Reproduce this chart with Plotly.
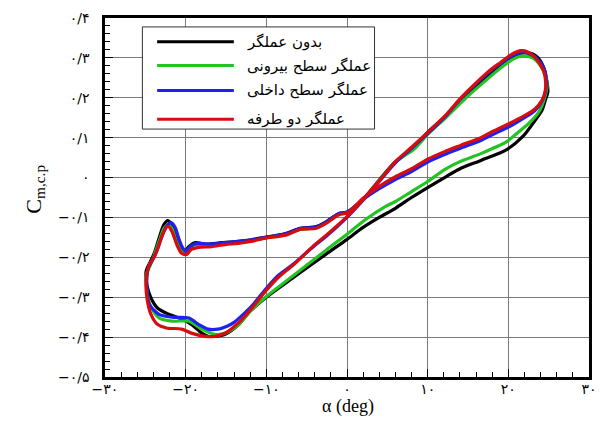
import plotly.graph_objects as go

# ---------------- data ----------------
names = ["بدون عملگر", "عملگر سطح بیرونی", "عملگر سطح داخلی", "عملگر دو طرفه"]
colors = ["#000000", "#22c322", "#2020f0", "#d80c0c"]

alpha_black = [-24.9, -24.4, -23.9, -23.3, -22.7, -22.2, -21.7, -21.1, -20.5, -20.1, -19.6, -18.8, -17.6, -16.0,
               -13.5, -11.9, -10.0, -8.7, -7.4, -5.8, -3.8, -2.6, -1.0, 0.0, 2.0, 4.0, 6.0, 8.4, 10.0, 12.4, 14.5,
               16.6, 19.0, 21.0, 22.2, 23.4, 24.3, 24.7, 24.9, 24.6, 24.2, 23.2, 21.8, 19.8, 16.6, 14.0, 12.1, 10.0,
               8.0, 6.0, 4.0, 2.0, 0.0, -2.6, -6.6, -10.0, -12.0, -13.5, -15.1, -16.4, -17.2, -18.0, -19.3, -20.5,
               -22.4, -23.5, -24.3, -24.8, -24.9]
cm_black = [-0.235, -0.212, -0.19, -0.152, -0.118, -0.108, -0.12, -0.158, -0.18, -0.185, -0.173, -0.163, -0.167,
            -0.164, -0.16, -0.156, -0.149, -0.145, -0.139, -0.127, -0.123, -0.111, -0.09, -0.086, -0.054, -0.006,
            0.04, 0.076, 0.113, 0.157, 0.2, 0.24, 0.282, 0.307, 0.313, 0.305, 0.28, 0.25, 0.215, 0.195, 0.17, 0.14,
            0.103, 0.07, 0.043, 0.022, 0.0, -0.025, -0.05, -0.077, -0.1, -0.125, -0.155, -0.192, -0.25, -0.3,
            -0.335, -0.37, -0.393, -0.398, -0.398, -0.39, -0.368, -0.355, -0.34, -0.327, -0.302, -0.27, -0.235]

alpha_green = [-24.9, -24.4, -23.9, -23.3, -22.7, -22.2, -21.7, -21.1, -20.5, -20.0, -19.5, -18.8, -17.6, -16.0,
               -13.5, -11.9, -10.0, -8.7, -7.4, -5.8, -3.8, -2.6, -1.0, 0.0, 2.0, 4.0, 6.0, 8.4, 10.0, 12.4, 14.5,
               16.6, 19.0, 20.6, 21.8, 23.0, 24.0, 24.6, 24.8, 24.5, 23.8, 22.5, 21.0, 19.8, 16.6, 14.0, 12.1, 10.0,
               8.0, 6.0, 4.8, 2.3, 0.0, -2.6, -6.6, -10.0, -12.0, -13.5, -15.1, -16.4, -18.0, -19.6, -21.7, -23.3,
               -24.4, -24.8, -24.9]
cm_green = [-0.245, -0.22, -0.195, -0.16, -0.128, -0.118, -0.128, -0.163, -0.185, -0.188, -0.177, -0.168, -0.17,
            -0.167, -0.162, -0.158, -0.151, -0.147, -0.142, -0.13, -0.126, -0.114, -0.092, -0.088, -0.056, -0.008,
            0.038, 0.073, 0.108, 0.153, 0.195, 0.233, 0.274, 0.297, 0.305, 0.3, 0.28, 0.255, 0.23, 0.2, 0.165,
            0.135, 0.11, 0.09, 0.06, 0.04, 0.02, -0.01, -0.035, -0.06, -0.072, -0.105, -0.142, -0.182, -0.245,
            -0.298, -0.335, -0.37, -0.39, -0.393, -0.38, -0.36, -0.36, -0.352, -0.32, -0.285, -0.245]

alpha_blue = [-24.8, -24.6, -24.2, -23.6, -22.9, -22.3, -21.8, -21.3, -20.9, -20.4, -20.0, -19.4, -18.6, -17.0,
              -15.0, -13.5, -11.9, -10.1, -8.7, -7.4, -5.8, -3.8, -2.6, -1.0, 0.0, 1.0, 2.0, 4.0, 6.0, 8.0, 10.0,
              12.1, 14.0, 16.6, 18.0, 20.6, 22.0, 23.3, 24.2, 24.6, 24.7, 24.5, 24.0, 23.3, 22.4, 21.6, 20.5, 19.0,
              17.8, 16.0, 14.0, 12.4, 10.0, 8.0, 6.0, 4.0, 2.0, 0.0, -2.6, -4.1, -6.6, -8.5, -10.1, -11.5, -12.7,
              -14.0, -14.8, -16.0, -17.2, -18.4, -19.6, -21.7, -23.3, -24.5, -24.8, -24.8]
cm_blue = [-0.25, -0.225, -0.21, -0.185, -0.145, -0.12, -0.113, -0.125, -0.15, -0.175, -0.185, -0.172, -0.165,
           -0.167, -0.163, -0.16, -0.157, -0.15, -0.146, -0.14, -0.128, -0.124, -0.112, -0.09, -0.087, -0.072,
           -0.055, -0.028, -0.005, 0.015, 0.039, 0.058, 0.073, 0.093, 0.107, 0.133, 0.15, 0.168, 0.192, 0.215,
           0.245, 0.27, 0.288, 0.303, 0.312, 0.314, 0.306, 0.285, 0.267, 0.235, 0.195, 0.158, 0.11, 0.073, 0.037,
           -0.01, -0.057, -0.1, -0.148, -0.172, -0.216, -0.245, -0.28, -0.315, -0.34, -0.363, -0.372, -0.38, -0.38,
           -0.368, -0.352, -0.35, -0.343, -0.318, -0.28, -0.25]

alpha_red = [-24.9, -24.5, -23.9, -23.3, -22.7, -22.2, -21.7, -21.1, -20.5, -19.9, -19.3, -18.4, -16.8, -15.1,
             -13.5, -11.9, -10.1, -8.7, -7.4, -5.8, -3.8, -2.6, -1.0, 0.0, 1.0, 2.0, 4.0, 6.0, 8.0, 10.0, 12.1,
             14.0, 16.6, 18.0, 20.6, 22.0, 23.3, 24.2, 24.6, 24.6, 24.4, 23.9, 23.2, 22.4, 21.6, 20.5, 19.0, 17.8,
             16.0, 14.0, 12.4, 10.0, 8.0, 6.0, 4.0, 2.0, 0.0, -2.6, -4.1, -6.6, -8.5, -10.1, -11.9, -13.5, -15.1,
             -16.4, -17.6, -19.3, -20.5, -22.4, -23.5, -24.3, -24.8, -24.9]
cm_red = [-0.256, -0.218, -0.2, -0.168, -0.135, -0.122, -0.135, -0.168, -0.19, -0.193, -0.18, -0.175, -0.173,
          -0.168, -0.165, -0.16, -0.152, -0.148, -0.143, -0.13, -0.127, -0.115, -0.093, -0.089, -0.072, -0.052,
          -0.022, 0.002, 0.022, 0.046, 0.065, 0.08, 0.1, 0.115, 0.14, 0.155, 0.172, 0.195, 0.22, 0.245, 0.265,
          0.285, 0.303, 0.315, 0.318, 0.31, 0.288, 0.27, 0.237, 0.197, 0.16, 0.113, 0.076, 0.04, -0.008, -0.055,
          -0.098, -0.145, -0.17, -0.218, -0.25, -0.285, -0.33, -0.365, -0.39, -0.398, -0.398, -0.39, -0.38,
          -0.377, -0.368, -0.343, -0.302, -0.256]

x_tickvals = [-30, -20, -10, 0, 10, 20, 30]
x_ticktext = ["−۳۰", "−۲۰", "−۱۰", "۰", "۱۰", "۲۰", "۳۰"]
y_tickvals = [-0.5, -0.4, -0.3, -0.2, -0.1, 0.0, 0.1, 0.2, 0.3, 0.4]
y_ticktext = ["−۰/۵", "−۰/۴", "−۰/۳", "−۰/۲", "−۰/۱", "۰", "۰/۱", "۰/۲", "۰/۳", "۰/۴"]

series_alpha = [alpha_black, alpha_green, alpha_blue, alpha_red]
series_cm = [cm_black, cm_green, cm_blue, cm_red]

# ---------------- figure ----------------
fig = go.Figure()
for a, c, col, nm in zip(series_alpha, series_cm, colors, names):
    fig.add_trace(go.Scatter(x=a, y=c, mode="lines", name=nm,
                             line=dict(color=col, width=3.2, shape="spline", smoothing=0.8),
                             showlegend=False))

W, H = 607, 432
ml, mr, mt, mb = 105, 10, 15, 55
pw, ph = W - ml - mr, H - mt - mb


def px2paper(px, py):
    return (px - ml) / pw, (H - mb - py) / ph


# manual legend box
bx0, by0 = px2paper(143, 127)
bx1, by1 = px2paper(379, 24)
shapes = [dict(type="rect", xref="paper", yref="paper", x0=bx0, y0=by0, x1=bx1, y1=by1,
               line=dict(color="#333333", width=1), fillcolor="white", layer="above")]
annotations = []
rows_py = [39, 63, 88, 117]
for nm, col, py in zip(names, colors, rows_py):
    lx0, ly = px2paper(158, py)
    lx1, _ = px2paper(236, py)
    shapes.append(dict(type="line", xref="paper", yref="paper", x0=lx0, x1=lx1, y0=ly, y1=ly,
                       line=dict(color=col, width=3), layer="above"))
    tx, _ = px2paper(247, py)
    annotations.append(dict(xref="paper", yref="paper", x=tx, y=ly, text=nm, showarrow=False,
                            xanchor="left", yanchor="middle",
                            font=dict(family="DejaVu Sans", size=15, color="black")))

ax_x, ax_y = px2paper(352, 407)
annotations.append(dict(xref="paper", yref="paper", x=ax_x, y=ax_y, text="α (deg)", showarrow=False,
                        xanchor="center", yanchor="middle",
                        font=dict(family="Liberation Serif", size=18, color="black")))
ay_x, ay_y = px2paper(33, 188)
annotations.append(dict(xref="paper", yref="paper", x=ay_x, y=ay_y, text="C<sub>m,c.p</sub>",
                        showarrow=False, textangle=-90, xanchor="center", yanchor="middle",
                        font=dict(family="Liberation Serif", size=22, color="black")))

axis_common = dict(ticks="inside", ticklen=8, tickwidth=1.2, tickcolor="black",
                   showline=True, linewidth=2.5, linecolor="black", mirror=True,
                   showgrid=True, gridcolor="#7a7a7a", gridwidth=1, zeroline=False,
                   tickfont=dict(family="DejaVu Sans", size=14, color="black"))

fig.update_layout(
    width=W, height=H,
    margin=dict(l=ml, r=mr, t=mt, b=mb),
    paper_bgcolor="white", plot_bgcolor="white",
    shapes=shapes, annotations=annotations,
    xaxis=dict(range=[-30, 30], tickmode="array", tickvals=x_tickvals, ticktext=x_ticktext,
               minor=dict(dtick=2, ticks="inside", ticklen=5, tickcolor="black", showgrid=False),
               ticklabelstandoff=-3, **axis_common),
    yaxis=dict(range=[-0.5, 0.4], tickmode="array", tickvals=y_tickvals, ticktext=y_ticktext,
               minor=dict(dtick=0.02, ticks="inside", ticklen=5, tickcolor="black", showgrid=False),
               ticklabelstandoff=10, **axis_common),
)

fig.write_html("out.html")
